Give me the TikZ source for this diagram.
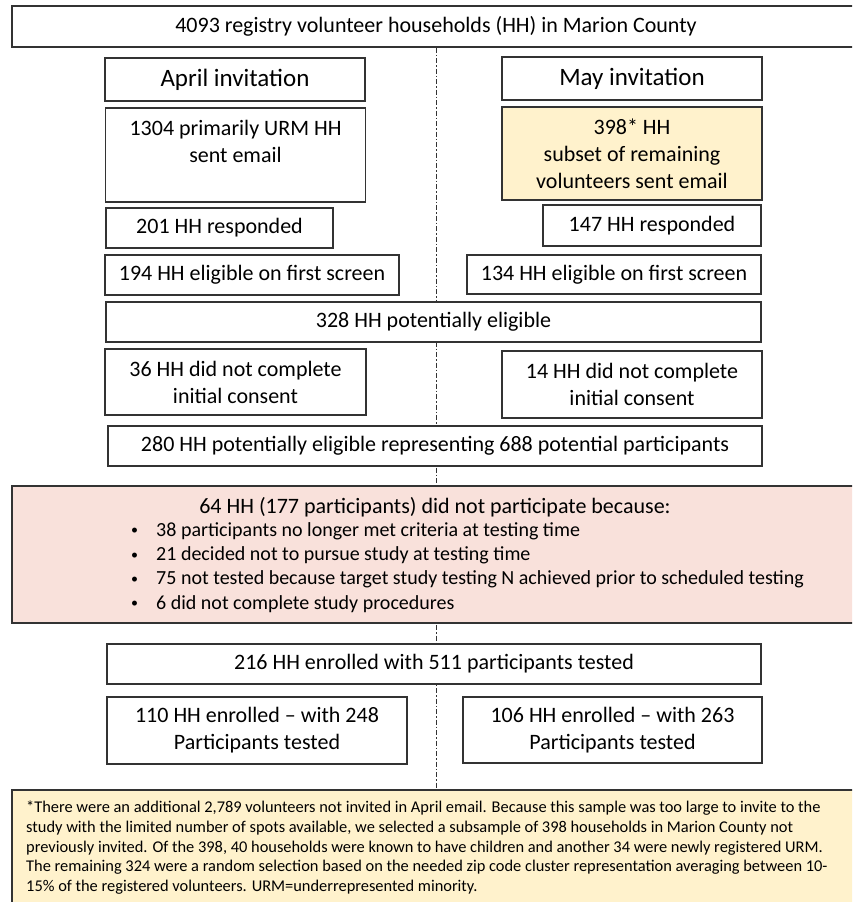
\documentclass[tikz,border=0pt]{standalone}
\usepackage{fontspec}
\setmainfont{Carlito}
\usetikzlibrary{positioning,backgrounds}
\definecolor{edgegray}{HTML}{333333}
\definecolor{notefill}{HTML}{FFF2CC}
\definecolor{dropfill}{HTML}{F9E1DB}
\newcommand{\dropbullet}{\makebox[27pt][l]{\hspace{2pt}\raisebox{1.5pt}{\fontsize{14}{14}\selectfont\textbullet}}}

\begin{document}
\begin{tikzpicture}[x=1pt, y=-1pt]
    \tikzstyle{box}=[draw=edgegray, line width=1.2pt, fill=white, inner sep=0pt, align=center, font=\fontsize{22}{27}\selectfont]
    \tikzstyle{wide}=[box, minimum width=848pt]
    \tikzstyle{half}=[box, minimum width=260pt]
    \tikzstyle{mid}=[box, minimum width=654pt, minimum height=40pt]

    \clip (0,0) rectangle (852,902);

    \node (top) [wide, minimum height=41pt] at (436,26.5) {4093 registry volunteer households (HH) in Marion County};

    \node (april) [half, minimum height=43pt, font=\fontsize{25}{30}\selectfont] at (235,79.5) {April invitation};
    \node (may) [half, minimum height=43pt, font=\fontsize{25}{30}\selectfont] at (632,78.5) {May invitation};

    \node (urm) [half, minimum height=94pt] at (235.5,155) {1304 primarily URM HH\\sent email\\\mbox{}};
    \node (subset) [half, minimum height=93pt, fill=notefill] at (632,153.5) {398* HH\\subset of remaining\\volunteers sent email};

    \node (resp-a) [box, minimum width=227pt, minimum height=40pt] at (219.5,228) {201 HH responded};
    \node (resp-m) [box, minimum width=218pt, minimum height=41pt] at (652,225.5) {147 HH responded};

    \node (elig-a) [box, minimum width=294pt, minimum height=40pt] at (252,275) {194 HH eligible on first screen};
    \node (elig-m) [box, minimum width=294pt, minimum height=39pt] at (614,274.5) {134 HH eligible on first screen};

    \node (pot) [mid, minimum width=655pt] at (433.5,322) {328 HH potentially eligible};

    \node (cons-a) [half, minimum width=261pt, minimum height=66pt] at (235.5,382) {36 HH did not complete\\initial consent};
    \node (cons-m) [half, minimum height=67pt] at (632,384.5) {14 HH did not complete\\initial consent};

    \node (rep) [mid] at (435,446) {280 HH potentially eligible representing 688 potential participants};

    \node (drop) [wide, minimum height=137pt, fill=dropfill] at (436,554.5) {};
    \node (droptitle) [font=\fontsize{22}{26}\selectfont, inner sep=0pt] at (435,507) {64 HH (177 participants) did not participate because:};
    \node (reasons) [anchor=west, align=left, inner sep=0pt, font=\fontsize{20}{24.3}\selectfont] at (129,567.5)
        {\dropbullet 38 participants no longer met criteria at testing time\\
         \dropbullet 21 decided not to pursue study at testing time\\
         \dropbullet 75 not tested because target study testing N achieved prior to scheduled testing\\
         \dropbullet 6 did not complete study procedures};

    \node (enr) [mid] at (434,664) {216 HH enrolled with 511 participants tested};

    \node (enr-a) [box, minimum width=300pt, minimum height=67pt] at (257,730.5) {110 HH enrolled -- with 248\\Participants tested};
    \node (enr-m) [box, minimum width=299pt, minimum height=66pt] at (612.5,730) {106 HH enrolled -- with 263\\Participants tested};

    \node (note) [wide, minimum height=124pt, fill=notefill] at (436,852) {};
    \node (notetext) [anchor=west, align=left, inner sep=0pt, font=\fontsize{16.4}{19.8}\selectfont] at (26,847.6)
        {*There were an additional 2,789 volunteers not invited in April email. Because this sample was too large to invite to the\\
         study with the limited number of spots available, we selected a subsample of 398 households in Marion County not\\
         previously invited. Of the 398, 40 households were known to have children and another 34 were newly registered URM.\\
         The remaining 324 were a random selection based on the needed zip code cluster representation averaging between 10-\\
         15\% of the registered volunteers. URM=underrepresented minority.};

    \begin{pgfonlayer}{background}
        \draw[edgegray, line width=1pt, dash pattern=on 5pt off 2pt on 1.5pt off 2pt] (top.south) -- (note.north);
    \end{pgfonlayer}
\end{tikzpicture}
\end{document}
